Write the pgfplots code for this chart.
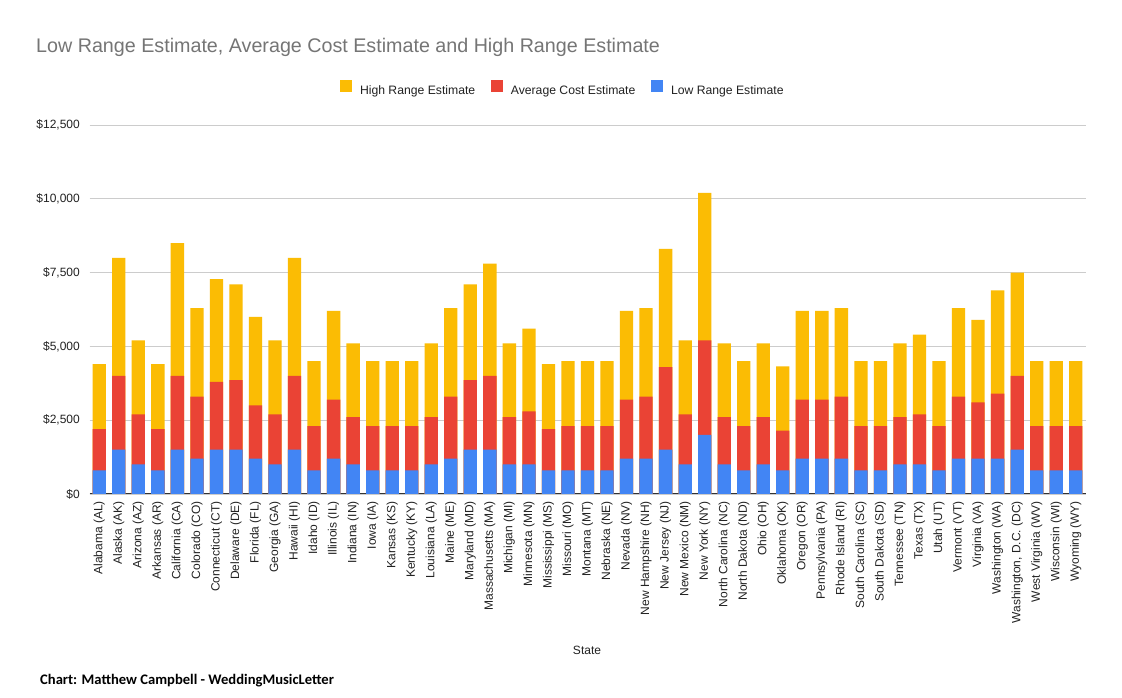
\documentclass[border=0pt]{standalone}
\usepackage{fontspec}
\setmainfont{Liberation Sans}
\newfontfamily\carlito{Carlito}
\usepackage{pgfplots}
\usepackage{pgfplotstable}
\pgfplotsset{compat=1.18}
\definecolor{cY}{HTML}{FBBC04}
\definecolor{cR}{HTML}{EA4335}
\definecolor{cB}{HTML}{4285F4}
\definecolor{cGrid}{HTML}{CCCCCC}
\definecolor{cAxis}{HTML}{333333}
\definecolor{cTxt}{HTML}{222222}
\definecolor{cTitle}{HTML}{757575}
\pgfplotstableread{
i low avg high
0 800 2200 4400
1 1500 4000 8000
2 1000 2700 5200
3 800 2200 4400
4 1500 4000 8500
5 1200 3300 6300
6 1500 3800 7275
7 1500 3860 7100
8 1200 3000 6000
9 1000 2700 5200
10 1500 4000 8000
11 800 2300 4500
12 1200 3200 6200
13 1000 2600 5100
14 800 2300 4500
15 800 2300 4500
16 800 2300 4500
17 1000 2600 5100
18 1200 3300 6300
19 1500 3860 7100
20 1500 4000 7800
21 1000 2600 5100
22 1000 2800 5600
23 800 2200 4400
24 800 2300 4500
25 800 2300 4500
26 800 2300 4500
27 1200 3200 6200
28 1200 3300 6300
29 1500 4300 8300
30 1000 2700 5200
31 2000 5200 10200
32 1000 2600 5100
33 800 2300 4500
34 1000 2600 5100
35 800 2150 4325
36 1200 3200 6200
37 1200 3200 6200
38 1200 3300 6300
39 800 2300 4500
40 800 2300 4500
41 1000 2600 5100
42 1000 2700 5400
43 800 2300 4500
44 1200 3300 6300
45 1200 3100 5900
46 1200 3400 6900
47 1500 4000 7500
48 800 2300 4500
49 800 2300 4500
50 800 2300 4500
}\data
\begin{document}
\begin{tikzpicture}
\fill[white] (0,0) rectangle (1122bp,698bp);
\path[use as bounding box] (0,0) rectangle (1122bp,698bp);
\begin{axis}[
  at={(89.5bp,204bp)}, anchor=south west,
  scale only axis, width=996bp, height=369bp,
  xmin=-0.5, xmax=50.5, ymin=0, ymax=12500,
  scaled y ticks=false,
  axis x line*=bottom, axis y line*=left,
  separate axis lines,
  x axis line style={draw=cAxis, line width=1bp, -},
  y axis line style={draw=none},
  ymajorgrids, grid style={draw=cGrid, line width=0.8bp},
  major tick length=0pt,
  xtick={0,...,50},
  xticklabels={Alabama (AL),Alaska (AK),Arizona (AZ),Arkansas (AR),California (CA),Colorado (CO),Connecticut (CT),Delaware (DE),Florida (FL),Georgia (GA),Hawaii (HI),Idaho (ID),Illinois (IL),Indiana (IN),Iowa (IA),Kansas (KS),Kentucky (KY),Louisiana (LA),Maine (ME),Maryland (MD),Massachusetts (MA),Michigan (MI),Minnesota (MN),Mississippi (MS),Missouri (MO),Montana (MT),Nebraska (NE),Nevada (NV),New Hampshire (NH),New Jersey (NJ),New Mexico (NM),New York (NY),North Carolina (NC),North Dakota (ND),Ohio (OH),Oklahoma (OK),Oregon (OR),Pennsylvania (PA),Rhode Island (RI),South Carolina (SC),South Dakota (SD),Tennessee (TN),Texas (TX),Utah (UT),Vermont (VT),Virginia (VA),Washington (WA),{Washington, D.C. (DC)},West Virginia (WV),Wisconsin (WI),Wyoming (WY)},
  xticklabel style={rotate=90, anchor=east, inner sep=0pt, font=\fontsize{12bp}{14bp}\selectfont, text=cTxt},
  xticklabel shift=7bp,
  ytick={0,2500,5000,7500,10000,12500},
  yticklabels={{\$0},{\$2,500},{\$5,000},{\$7,500},{\$10,000},{\$12,500}},
  yticklabel style={anchor=east, inner sep=0pt, font=\fontsize{12bp}{14bp}\selectfont, text=cTxt},
  yticklabel shift=9.5bp,
  legend style={at={(rel axis cs:0.4744,1.1003)}, anchor=center, draw=none, fill=none,
    legend columns=3, font=\fontsize{12.2bp}{14bp}\selectfont, text=cTxt,
    nodes={inner sep=0pt},
    /tikz/every even column/.append style={column sep=16bp}},
  legend image code/.code={\fill[#1] (0bp,-1.6bp) rectangle (12bp,10.4bp); \path (19.6bp,0bp);},
]
\addplot[ybar, bar width=13.3bp, bar shift=0pt, fill=cY, draw=none] table[x=i,y=high]{\data};
\addlegendentry{High Range Estimate}
\addplot[ybar, bar width=13.3bp, bar shift=0pt, fill=cR, draw=none] table[x=i,y=avg]{\data};
\addlegendentry{Average Cost Estimate}
\addplot[ybar, bar width=13.3bp, bar shift=0pt, fill=cB, draw=none] table[x=i,y=low]{\data};
\addlegendentry{Low Range Estimate}
\end{axis}
\node[anchor=west, inner sep=0pt, text=cTitle, font=\fontsize{19.7bp}{22bp}\selectfont] at (36bp,651bp) {Low Range Estimate, Average Cost Estimate and High Range Estimate};
\node[inner sep=0pt, text=cTxt, font=\fontsize{12bp}{14bp}\selectfont] at (587bp,48bp) {State};
\node[anchor=west, inner sep=0pt, text=black, font=\fontsize{14.6bp}{17bp}\selectfont\carlito\bfseries] at (40bp,17bp) {Chart: Matthew Campbell - WeddingMusicLetter};
\end{tikzpicture}
\end{document}
